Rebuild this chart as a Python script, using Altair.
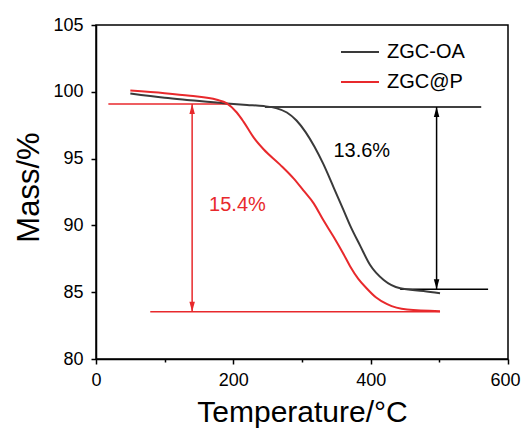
import altair as alt
import pandas as pd

# ---- data ----
series_names = ["ZGC-OA", "ZGC@P"]
series_colors = ["#3a3a3a", "#e8292c"]

temp_oa = [50, 100, 137, 186, 220, 244, 262, 278, 292, 305, 318, 331, 346, 360, 370, 385, 399, 419, 443, 477, 501]
mass_oa = [99.87, 99.55, 99.37, 99.14, 99.02, 98.93, 98.78, 98.45, 97.85, 97.0, 95.9, 94.6, 92.85, 91.2, 90.0, 88.45, 87.05, 85.91, 85.29, 85.09, 84.92]

temp_p = [50, 100, 137, 176, 190, 205, 215, 230, 244, 268, 288, 302, 317, 331, 346, 360, 370, 382, 394, 408, 424, 453, 501]
mass_p = [100.1, 99.9, 99.7, 99.4, 99.15, 98.45, 97.75, 96.55, 95.7, 94.55, 93.5, 92.62, 91.65, 90.4, 89.15, 87.9, 86.95, 86.0, 85.3, 84.6, 84.1, 83.7, 83.58]

# reference (step) lines
black_hline_y = [98.86, 85.22]
black_hline_x1 = [246, 443]
black_hline_x2 = [561, 571]
red_hline_y = [99.09, 83.54]
red_hline_x1 = [18, 79]
red_hline_x2 = [196, 501]

# double arrows
black_arrow_x = [496]
black_arrow_top = [98.86]
black_arrow_bottom = [85.22]
red_arrow_x = [140]
red_arrow_top = [99.09]
red_arrow_bottom = [83.54]

# annotations
black_label = ["13.6%"]
black_label_x = [387]
black_label_y = [95.58]
red_label = ["15.4%"]
red_label_x = [206]
red_label_y = [91.5]

x_ticks = [0, 100, 200, 300, 400, 500, 600]
y_ticks = [80, 82.5, 85, 87.5, 90, 92.5, 95, 97.5, 100, 102.5, 105]

FONT = "Liberation Sans"
BLACK = "#000000"
RED = "#e8292c"

curves = pd.DataFrame({
    "T": temp_oa + temp_p,
    "M": mass_oa + mass_p,
    "series": [series_names[0]] * len(temp_oa) + [series_names[1]] * len(temp_p),
})

xscale = alt.Scale(domain=[0, 600], nice=False)
yscale = alt.Scale(domain=[80, 105], nice=False, zero=False)

xaxis = alt.Axis(
    values=x_ticks,
    labelExpr="datum.value % 200 === 0 ? datum.label : ''",
    format="d",
    title="Temperature/°C",
    titleFontSize=30, titleFont=FONT, titleFontWeight="normal", titleColor=BLACK,
    titleBaseline="alphabetic", titleY=62,
    labelFontSize=18, labelFont=FONT, labelColor=BLACK, labelPadding=7,
    labelOverlap=False, labelFlush=False,
    labelOffset={"condition": {"test": "datum.value === 600", "value": -3}, "value": 0},
    tickSize={"condition": {"test": "datum.value % 200 === 0", "value": 5}, "value": 3},
    tickColor=BLACK, tickWidth=1.5, domainColor=BLACK, domainWidth=1.5, grid=False,
)
yaxis = alt.Axis(
    values=y_ticks,
    labelExpr="datum.value % 5 === 0 ? format(datum.value, 'd') : ''",
    title="Mass/%",
    titleFontSize=31, titleFont=FONT, titleFontWeight="normal", titleColor=BLACK,
    titleAngle=-90, titleBaseline="alphabetic", titleAlign="center", titleX=-58, titleY=162,
    labelFontSize=18, labelFont=FONT, labelColor=BLACK, labelPadding=8,
    labelOverlap=False, labelFlush=False,
    tickSize={"condition": {"test": "datum.value % 5 === 0", "value": 5}, "value": 3},
    tickColor=BLACK, tickWidth=1.5, domainColor=BLACK, domainWidth=1.5, grid=False,
)

lines = alt.Chart(curves).mark_line(interpolate="monotone", strokeWidth=2).encode(
    x=alt.X("T:Q", scale=xscale, axis=xaxis),
    y=alt.Y("M:Q", scale=yscale, axis=yaxis),
    color=alt.Color(
        "series:N",
        scale=alt.Scale(domain=series_names, range=series_colors),
        legend=alt.Legend(
            title=None, orient="none", legendX=244, legendY=7,
            symbolType="stroke", symbolSize=1444, symbolStrokeWidth=2,
            labelFontSize=20, labelFont=FONT, labelColor=BLACK,
            rowPadding=-17, labelOffset=7,
        ),
    ),
    order="T:Q",
)

def hrules(ys, x1s, x2s, color):
    df = pd.DataFrame({"y": ys, "x1": x1s, "x2": x2s})
    return alt.Chart(df).mark_rule(strokeWidth=1.5, color=color).encode(
        x=alt.X("x1:Q", scale=xscale), x2="x2:Q", y=alt.Y("y:Q", scale=yscale)
    )

def arrows(xs, tops, bottoms, color):
    df = pd.DataFrame({"x": xs, "top": tops, "bottom": bottoms})
    base = alt.Chart(df)
    shaft = base.mark_rule(strokeWidth=1.5, color=color).encode(
        x=alt.X("x:Q", scale=xscale), y=alt.Y("top:Q", scale=yscale), y2="bottom:Q"
    )
    up = base.mark_point(shape="M0,0L-0.55,2L0.55,2Z", filled=True, opacity=1,
                         color=color, size=100, strokeWidth=0).encode(
        x=alt.X("x:Q", scale=xscale), y=alt.Y("top:Q", scale=yscale)
    )
    down = base.mark_point(shape="M0,0L-0.55,-2L0.55,-2Z", filled=True, opacity=1,
                           color=color, size=100, strokeWidth=0).encode(
        x=alt.X("x:Q", scale=xscale), y=alt.Y("bottom:Q", scale=yscale)
    )
    return shaft + up + down

def label(texts, xs, ys, color):
    df = pd.DataFrame({"t": texts, "x": xs, "y": ys})
    return alt.Chart(df).mark_text(font=FONT, fontSize=20, color=color,
                                   align="center", baseline="middle").encode(
        x=alt.X("x:Q", scale=xscale), y=alt.Y("y:Q", scale=yscale), text="t:N"
    )

chart = alt.layer(
    hrules(black_hline_y, black_hline_x1, black_hline_x2, BLACK),
    hrules(red_hline_y, red_hline_x1, red_hline_x2, RED),
    arrows(black_arrow_x, black_arrow_top, black_arrow_bottom, BLACK),
    arrows(red_arrow_x, red_arrow_top, red_arrow_bottom, RED),
    lines,
    label(black_label, black_label_x, black_label_y, BLACK),
    label(red_label, red_label_x, red_label_y, RED),
).properties(
    width=412, height=334,
    autosize="none",
    padding={"left": 88, "top": 17, "right": 13, "bottom": 69},
    background="white",
).configure_view(
    stroke=BLACK, strokeWidth=1.5
)

chart.save("out.html", embed_options={"renderer": "svg", "actions": False})
